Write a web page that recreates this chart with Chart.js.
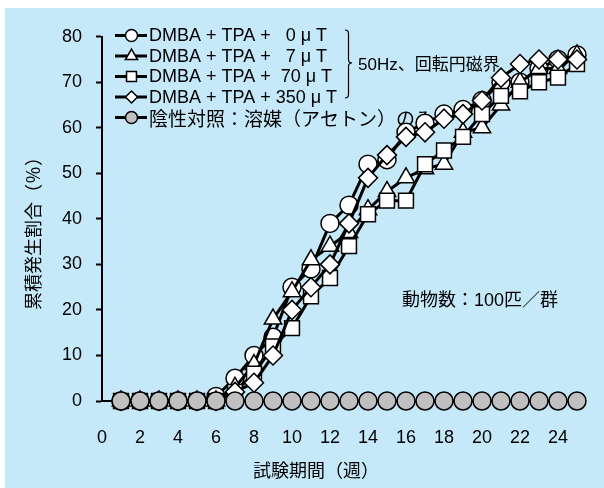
<!DOCTYPE html>
<html lang="ja">
<head>
<meta charset="utf-8">
<title>累積発生割合</title>
<script src="https://cdn.jsdelivr.net/npm/chart.js@4.4.1/dist/chart.umd.min.js"></script>
<style>
  html, body { margin: 0; padding: 0; background: #fff; }
  #wrap { position: absolute; left: 5px; top: 8px; width: 599px; height: 480px; background: #c6e9fa; }
  canvas { display: block; }
</style>
</head>
<body>
<div id="wrap"><canvas id="chart" width="599" height="480"></canvas></div>
<script>
// weeks on test
const weeks = [1, 2, 3, 4, 5, 6, 7, 8, 9, 10, 11, 12, 13, 14, 15, 16, 17, 18, 19, 20, 21, 22, 23, 24, 25];

// cumulative incidence (%) per group
const dose0 = [0, 0, 0, 0, 0, 1, 5, 10, 14, 25, 29, 39, 43, 52, 53, 59, 61, 63, 64, 66, 70, 70, 73, 75, 76];
const dose7 = [0, 0, 0, 0, 0, 0, 3, 8, 18, 24, 31, 34, 37, 42, 46, 49, 51, 52, 59, 60, 65, 70, 73, 73, 76];
const dose70 = [0, 0, 0, 0, 0, 0, 2, 6, 12, 16, 23, 27, 34, 41, 44, 44, 52, 55, 58, 63, 67, 68, 70, 71, 74];
const dose350 = [0, 0, 0, 0, 0, 0, 2, 4, 10, 20, 25, 30, 39, 49, 54, 58, 59, 62, 63, 66, 71, 74, 75, 75, 75];
const vehicle = [0, 0, 0, 0, 0, 0, 0, 0, 0, 0, 0, 0, 0, 0, 0, 0, 0, 0, 0, 0, 0, 0, 0, 0, 0];

const seriesLabels = [
  'DMBA + TPA +   0 μ T',
  'DMBA + TPA +   7 μ T',
  'DMBA + TPA +  70 μ T',
  'DMBA + TPA + 350 μ T',
  '陰性対照：溶媒（アセトン）のみ',
];

const xTicks = [0, 2, 4, 6, 8, 10, 12, 14, 16, 18, 20, 22, 24];
const yTicks = [0, 10, 20, 30, 40, 50, 60, 70, 80];

const xTitle = '試験期間（週）';
const yTitle = '累積発生割合（％）';

const FONT = "'Liberation Sans', 'Noto Sans CJK JP', sans-serif";
const JP_FONT = "'Noto Sans CJK JP', sans-serif";

function toPoints(values) {
  return weeks.map((w, i) => ({ x: w, y: values[i] }));
}

function makeSeries(label, values, style, radius, legendRadius, fill, order) {
  return {
    label,
    data: toPoints(values),
    borderColor: '#000',
    borderWidth: 3,
    pointStyle: style,
    pointRadius: radius,
    pointHoverRadius: radius,
    pointBackgroundColor: fill,
    pointBorderColor: '#000',
    pointBorderWidth: 1.5,
    legendRadius,
    tension: 0,
    clip: false,
    order,
  };
}

// legend, bracket, axis titles and notes are painted underneath the series
const notes = {
  id: 'notes',
  beforeDatasetsDraw(chart) {
    const ctx = chart.ctx;
    const { drawPoint } = Chart.helpers;
    ctx.save();
    chart.data.datasets.forEach((ds, i) => {
      const y = 27.5 + i * 20.5;
      ctx.strokeStyle = '#000';
      ctx.lineWidth = 3;
      ctx.beginPath();
      ctx.moveTo(110, y);
      ctx.lineTo(142, y);
      ctx.stroke();
      ctx.fillStyle = ds.pointBackgroundColor;
      ctx.lineWidth = 1.5;
      drawPoint(ctx, { pointStyle: ds.pointStyle, radius: ds.legendRadius, borderWidth: 1.5, rotation: 0 }, 126.5, y);
      ctx.fillStyle = '#000';
      ctx.font = i === 4 ? '19px ' + JP_FONT : '18px ' + FONT;
      ctx.textBaseline = 'middle';
      ctx.textAlign = 'left';
      ctx.fillText(ds.label, 144, y + 1);
    });

    // bracket for the four field groups
    const bx = 340, top = 22, bot = 90, mid = 55, w = 3.5;
    ctx.lineWidth = 1.2;
    ctx.beginPath();
    ctx.moveTo(bx, top);
    ctx.quadraticCurveTo(bx + w, top, bx + w, top + w);
    ctx.lineTo(bx + w, mid - w);
    ctx.quadraticCurveTo(bx + w, mid, bx + 2 * w, mid);
    ctx.quadraticCurveTo(bx + w, mid, bx + w, mid + w);
    ctx.lineTo(bx + w, bot - w);
    ctx.quadraticCurveTo(bx + w, bot, bx, bot);
    ctx.stroke();

    ctx.font = '17px ' + FONT;
    ctx.fillText('50Hz、回転円磁界', 353, 57);
    ctx.font = '18px ' + FONT;
    ctx.fillText('動物数：100匹／群', 397, 293);

    // axis titles
    ctx.font = '18px ' + JP_FONT;
    ctx.textAlign = 'center';
    ctx.fillText(xTitle, 311, 462);
    ctx.translate(28, 221);
    ctx.rotate(-Math.PI / 2);
    ctx.fillText(yTitle, 0, 0);
    ctx.restore();
  },
};

new Chart(document.getElementById('chart'), {
  type: 'line',
  data: {
    datasets: [
      makeSeries(seriesLabels[0], dose0, 'circle', 9, 6, '#fff', 4),
      makeSeries(seriesLabels[1], dose7, 'triangle', 10, 7, '#fff', 3),
      makeSeries(seriesLabels[2], dose70, 'rect', 10.5, 7, '#fff', 2),
      makeSeries(seriesLabels[3], dose350, 'rectRot', 9.5, 6, '#fff', 1),
      makeSeries(seriesLabels[4], vehicle, 'circle', 9, 6, '#c0c0c0', 0),
    ],
  },
  options: {
    responsive: false,
    animation: false,
    layout: { padding: { left: 0, right: 27, top: 28.7, bottom: 0 } },
    plugins: {
      legend: { display: false },
      tooltip: { enabled: false },
    },
    scales: {
      x: {
        type: 'linear',
        min: 0,
        max: 25,
        afterBuildTicks(scale) {
          scale.ticks = xTicks.map((v) => ({ value: v }));
        },
        afterFit(scale) { scale.height = 87; },
        ticks: { color: '#000', padding: 18, maxRotation: 0, font: { family: FONT, size: 18 } },
        grid: { display: false },
        border: { display: true, color: '#000', width: 2 },
      },
      y: {
        min: 0,
        max: 80,
        afterBuildTicks(scale) {
          scale.ticks = yTicks.map((v) => ({ value: v }));
        },
        afterFit(scale) { scale.width = 97; },
        ticks: { color: '#000', padding: 14, font: { family: FONT, size: 18 } },
        grid: { display: true, drawOnChartArea: false, drawTicks: true, tickLength: 6, tickWidth: 2, tickColor: '#000' },
        border: { display: true, color: '#000', width: 2 },
      },
    },
  },
  plugins: [notes],
});
</script>
</body>
</html>
